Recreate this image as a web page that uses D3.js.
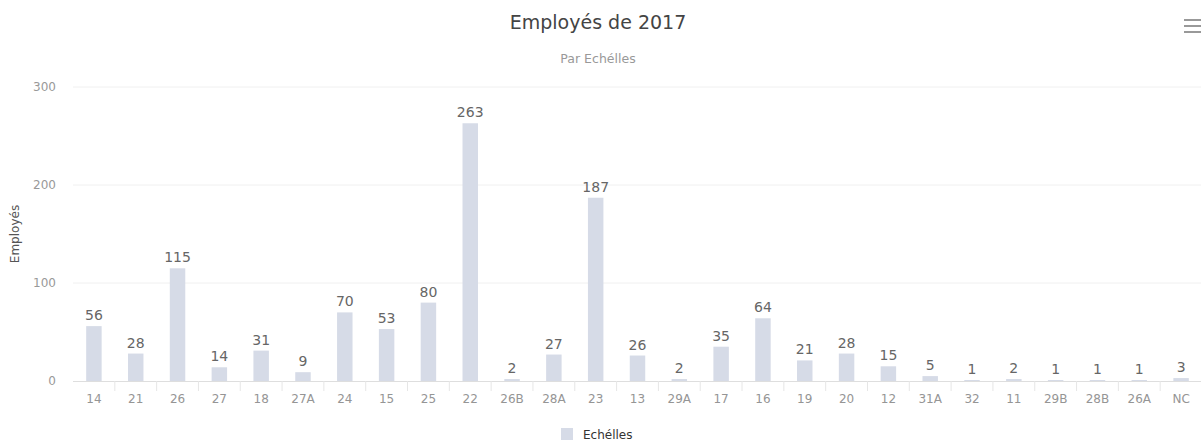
<!DOCTYPE html>
<html>
<head>
<meta charset="utf-8">
<script src="https://cdn.jsdelivr.net/npm/d3@7"></script>
<style>
  html, body { margin: 0; padding: 0; background: #ffffff; }
  svg { display: block; font-family: "DejaVu Sans", "Lucida Grande", Arial, sans-serif; }
</style>
</head>
<body>
<svg id="chart" width="1201" height="446"></svg>
<script>
// Headcount per salary scale (échelle), 2017
const categories = ["14", "21", "26", "27", "18", "27A", "24", "15", "25", "22", "26B", "28A", "23", "13",
  "29A", "17", "16", "19", "20", "12", "31A", "32", "11", "29B", "28B", "26A", "NC"];
const employees = [56, 28, 115, 14, 31, 9, 70, 53, 80, 263, 2, 27, 187, 26,
  2, 35, 64, 21, 28, 15, 5, 1, 2, 1, 1, 1, 3];
const yTicks = [0, 100, 200, 300];

const titleText = "Employés de 2017";
const subtitleText = "Par Echélles";
const yAxisTitle = "Employés";
const seriesName = "Echélles";

const svg = d3.select("#chart");
const W = 1201;

const plot = { left: 73, right: 1202, top: 87, bottom: 381 };

const x = d3.scaleBand()
  .domain(categories)
  .range([plot.left, plot.right])
  .paddingInner(0.63)
  .paddingOuter(0.315);

const y = d3.scaleLinear()
  .domain([0, 300])
  .range([plot.bottom, plot.top]);

// Title and subtitle
svg.append("text")
  .attr("x", 598).attr("y", 29)
  .attr("text-anchor", "middle")
  .attr("font-size", 19)
  .attr("fill", "#444444")
  .text(titleText);

svg.append("text")
  .attr("x", 598).attr("y", 63)
  .attr("text-anchor", "middle")
  .attr("font-size", 12.5)
  .attr("fill", "#999999")
  .text(subtitleText);

// Horizontal grid lines
svg.append("g")
  .selectAll("line")
  .data(yTicks.filter(d => d > 0))
  .join("line")
  .attr("x1", plot.left).attr("x2", W)
  .attr("y1", d => y(d)).attr("y2", d => y(d))
  .attr("stroke", "#f0f0f0")
  .attr("stroke-width", 1);

// Y axis (labels only)
const yAxis = d3.axisLeft(y).tickValues(yTicks).tickSize(0).tickPadding(0);
const yG = svg.append("g")
  .attr("transform", `translate(${plot.left - 17},0)`)
  .call(yAxis);
yG.select(".domain").remove();
yG.selectAll("text")
  .attr("font-size", 12)
  .attr("fill", "#999999")
  .attr("font-family", "DejaVu Sans, sans-serif");

svg.append("text")
  .attr("transform", `translate(19,${(plot.top + plot.bottom) / 2}) rotate(-90)`)
  .attr("text-anchor", "middle")
  .attr("font-size", 12)
  .attr("fill", "#555555")
  .text(yAxisTitle);

// X axis with tick marks between categories
const xAxis = d3.axisBottom(x).tickSize(0).tickPadding(13);
const xG = svg.append("g")
  .attr("transform", `translate(0,${plot.bottom})`)
  .call(xAxis);
xG.select(".domain").attr("stroke", "#dedede").attr("d", `M${plot.left},0.5H${W}`);
xG.selectAll("text")
  .attr("font-size", 12)
  .attr("fill", "#959595")
  .attr("font-family", "DejaVu Sans, sans-serif");

svg.append("g")
  .selectAll("line")
  .data(categories.slice(1))
  .join("line")
  .attr("x1", d => x(d) - x.step() * x.paddingInner() / 2)
  .attr("x2", d => x(d) - x.step() * x.paddingInner() / 2)
  .attr("y1", plot.bottom).attr("y2", plot.bottom + 10)
  .attr("stroke", "#e6e6e6");

// Bars
svg.append("g")
  .selectAll("rect")
  .data(categories.map((c, i) => ({ c, v: employees[i] })))
  .join("rect")
  .attr("x", d => x(d.c))
  .attr("width", x.bandwidth())
  .attr("y", d => y(d.v))
  .attr("height", d => y(0) - y(d.v))
  .attr("fill", "#d6dbe7");

// Value labels
svg.append("g")
  .selectAll("text")
  .data(categories.map((c, i) => ({ c, v: employees[i] })))
  .join("text")
  .attr("x", d => x(d.c) + x.bandwidth() / 2)
  .attr("y", d => y(d.v) - 6)
  .attr("text-anchor", "middle")
  .attr("font-size", 14)
  .attr("fill", "#666666")
  .text(d => d.v);

// Legend
const legend = svg.append("g").attr("transform", "translate(561,428)");
legend.append("rect")
  .attr("width", 12).attr("height", 12)
  .attr("fill", "#d6dbe7");
legend.append("text")
  .attr("x", 22).attr("y", 10.5)
  .attr("font-size", 12)
  .attr("fill", "#333333")
  .text(seriesName);

// Context menu button
svg.append("g")
  .selectAll("line")
  .data([20, 26, 32])
  .join("line")
  .attr("x1", 1184).attr("x2", 1201)
  .attr("y1", d => d).attr("y2", d => d)
  .attr("stroke", "#777777")
  .attr("stroke-width", 1.5);
</script>
</body>
</html>
